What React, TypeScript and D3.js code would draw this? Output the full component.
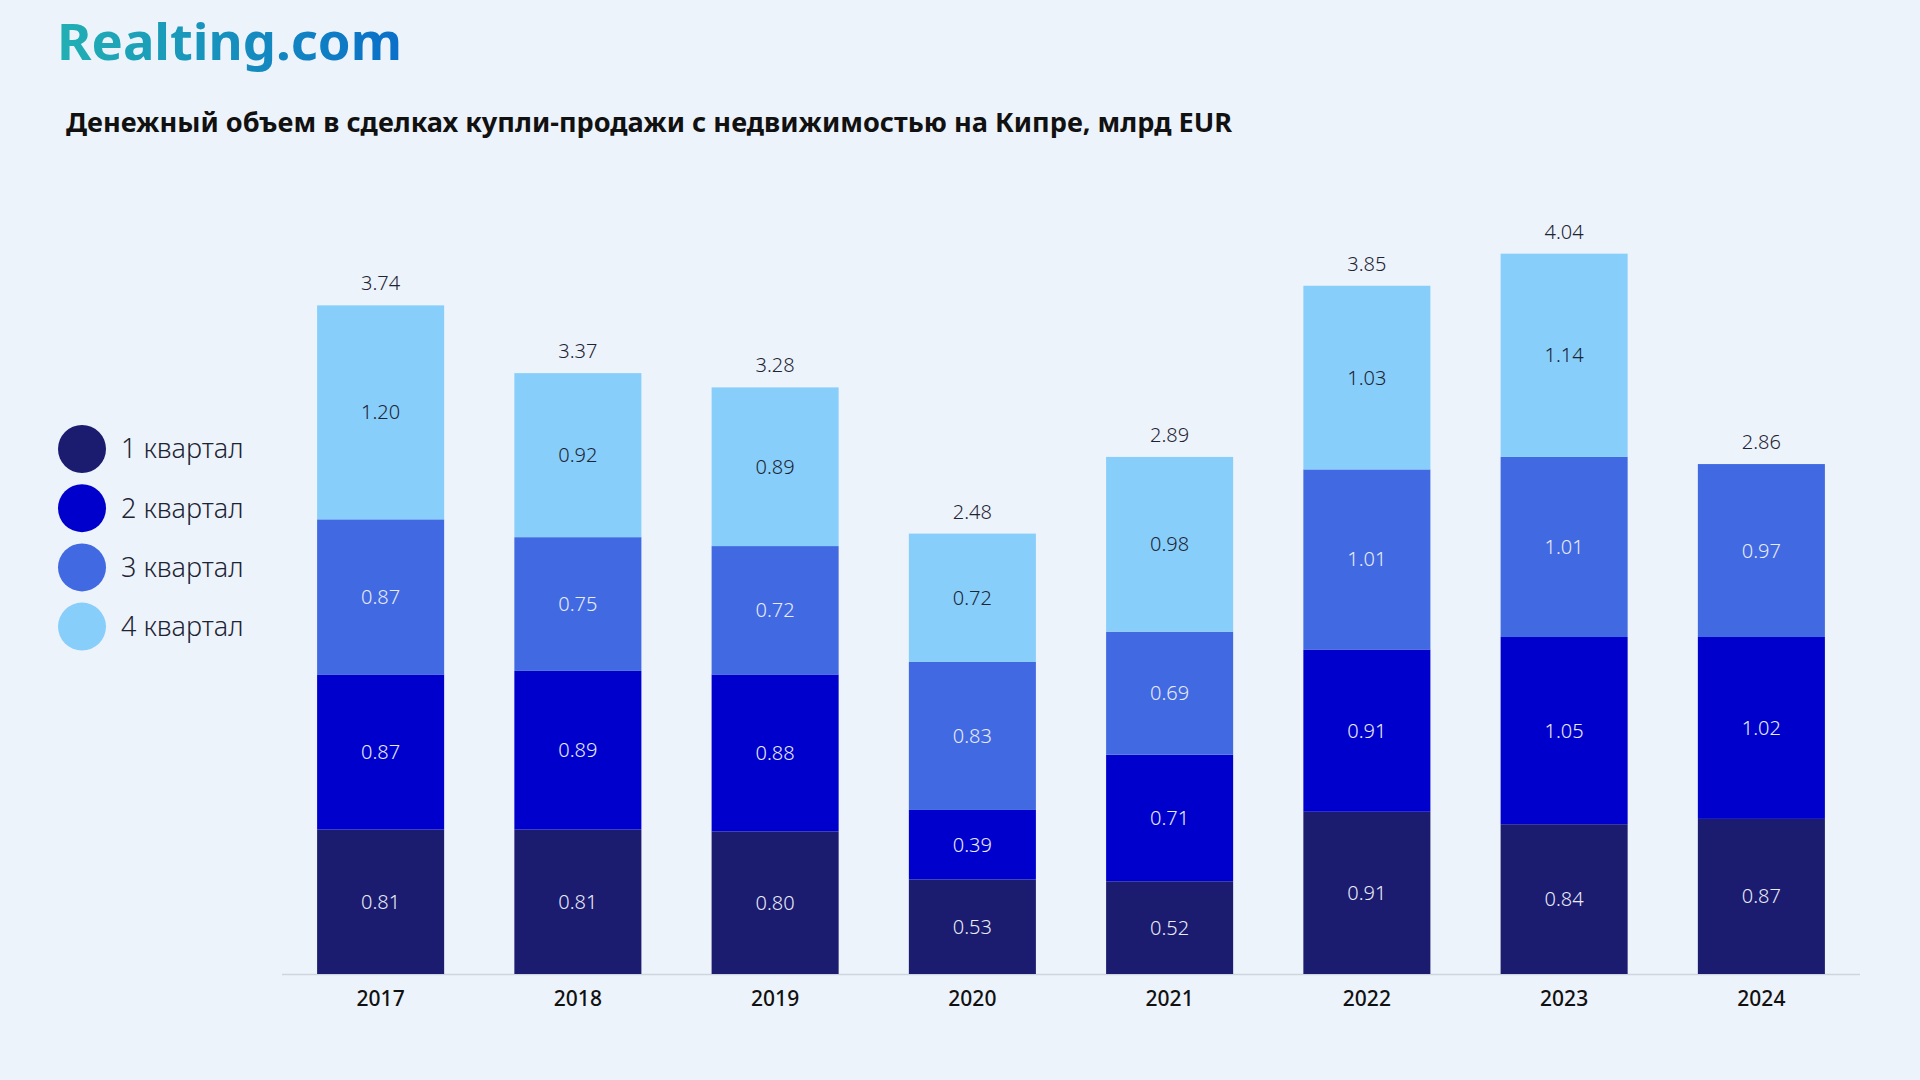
import React from "react";
import * as d3 from "d3";

const years = ["2017", "2018", "2019", "2020", "2021", "2022", "2023", "2024"];
const q1 = [0.81, 0.81, 0.8, 0.53, 0.52, 0.91, 0.84, 0.87];
const q2 = [0.87, 0.89, 0.88, 0.39, 0.71, 0.91, 1.05, 1.02];
const q3 = [0.87, 0.75, 0.72, 0.83, 0.69, 1.01, 1.01, 0.97];
const q4 = [1.2, 0.92, 0.89, 0.72, 0.98, 1.03, 1.14, 0];
const totals = [3.74, 3.37, 3.28, 2.48, 2.89, 3.85, 4.04, 2.86];
const seriesNames = ["1 квартал", "2 квартал", "3 квартал", "4 квартал"];
const seriesColors = ["#1b1b6f", "#0000cd", "#4169e1", "#87cefa"];
const labelColors = ["#e8ecf8", "#e8ecf8", "#e8ecf8", "#1d2433"];
const title = "Денежный объем в сделках купли-продажи с недвижимостью на Кипре, млрд EUR";

const W = 1920;
const H = 1080;
const FONT = "'Noto Sans', 'Open Sans', sans-serif";

export default function App() {
  const rows = years.map((y, i) => ({ year: y, q1: q1[i], q2: q2[i], q3: q3[i], q4: q4[i] }));
  const keys = ["q1", "q2", "q3", "q4"];
  const stack = d3.stack<any>().keys(keys)(rows);
  const x = d3.scaleBand<string>().domain(years).range([282, 1860]).paddingInner(0.356).paddingOuter(0.178);
  const y = d3.scaleLinear().domain([0, 4]).range([974, 974 - 4 * 178.3]);

  return (
    <svg width={W} height={H} style={{ position: "absolute", left: 0, top: 0, background: "#edf3fb" }}>
      <defs>
        <linearGradient id="logoGrad" x1="0" x2="1" y1="0" y2="0">
          <stop offset="0" stopColor="#22b0b3" />
          <stop offset="1" stopColor="#0a6fc9" />
        </linearGradient>
      </defs>
      <rect width={W} height={H} fill="#edf3fb" />
      <text x={57} y={60} fontFamily={FONT} fontWeight={700} fontSize={50} fill="url(#logoGrad)" textLength={345} lengthAdjust="spacingAndGlyphs">
        Realting.com
      </text>
      <text x={66} y={132} fontFamily={FONT} fontWeight={700} fontSize={27} fill="#111" textLength={1166} lengthAdjust="spacingAndGlyphs">
        {title}
      </text>
      {seriesNames.map((n, i) => (
        <g key={n}>
          <circle cx={82} cy={449 + i * 59.2} r={24} fill={seriesColors[i]} />
          <text x={121} y={449 + i * 59.2} dy="0.35em" fontFamily={FONT} fontWeight={300} fontSize={27} fill="#1d2433">
            {n}
          </text>
        </g>
      ))}
      <line x1={282} x2={1860} y1={974.5} y2={974.5} stroke="#cfd5de" strokeWidth={1.5} />
      {stack.map((s, si) => (
        <g key={si}>
          {s.map((d, i) => {
            const v = d[1] - d[0];
            if (!v) return null;
            const x0 = x(years[i])!;
            return (
              <g key={i}>
                <rect x={x0} y={y(d[1])} width={x.bandwidth()} height={y(d[0]) - y(d[1])} fill={seriesColors[si]} />
                <text x={x0 + x.bandwidth() / 2} y={(y(d[0]) + y(d[1])) / 2} dy="0.35em" textAnchor="middle" fontFamily={FONT} fontWeight={300} fontSize={20} fill={labelColors[si]}>
                  {v.toFixed(2)}
                </text>
              </g>
            );
          })}
        </g>
      ))}
      {years.map((yr, i) => {
        const top = stack[3][i][1];
        return (
          <g key={yr}>
            <text x={x(yr)! + x.bandwidth() / 2} y={y(top) - 15} textAnchor="middle" fontFamily={FONT} fontWeight={300} fontSize={20} fill="#1d2433">
              {totals[i].toFixed(2)}
            </text>
            <text x={x(yr)! + x.bandwidth() / 2} y={999} dy="0.35em" textAnchor="middle" fontFamily={FONT} fontWeight={500} fontSize={21} fill="#111">
              {yr}
            </text>
          </g>
        );
      })}
    </svg>
  );
}
